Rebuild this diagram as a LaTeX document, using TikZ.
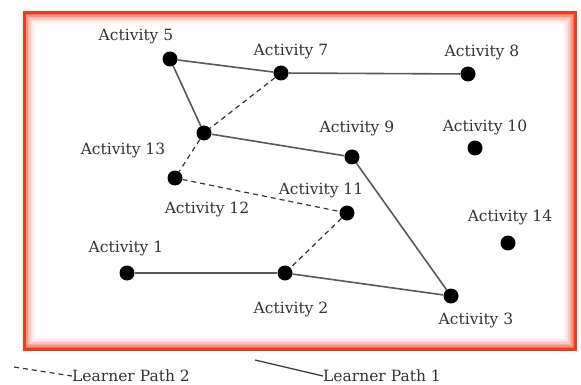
\documentclass[tikz,border=0pt]{standalone}
\usepackage{fontspec}
\setmainfont{DejaVu Serif}
\definecolor{framered}{RGB}{240,60,30}
\begin{document}
\begin{tikzpicture}[x=1pt,y=-1pt,
  dot/.style={circle,fill=black,inner sep=0pt,minimum size=15pt},
  lbl/.style={font=\fontsize{15.5}{18}\selectfont,text=black!80,inner sep=0pt},
  path1/.style={draw=black!65,line width=1.6pt},
  path2/.style={draw=black!80,line width=1.2pt,dash pattern=on 5pt off 4pt}]
\useasboundingbox (0,0) rectangle (581,385);
% glowing red frame
\foreach \i/\op in {0/1,1/0.75,2/0.55,3/0.4,4/0.28,5/0.18,6/0.1,7/0.05}{
  \draw[draw=framered,opacity=\op,line width=1.5pt]
    ({24+1.5*\i},{13+1.5*\i}) rectangle ({575-1.5*\i},{349-1.5*\i});
}
\draw[draw=framered,line width=3pt] (24,13) rectangle (575,349);
% nodes
\node[dot] (a5) at (170,59) {};
\node[dot] (a7) at (281,73) {};
\node[dot] (a8) at (468,74) {};
\node[dot] (a13) at (204,133) {};
\node[dot] (a12) at (175,178) {};
\node[dot] (a9) at (352,157) {};
\node[dot] (a10) at (475,148) {};
\node[dot] (a11) at (347,213) {};
\node[dot] (a14) at (508,243) {};
\node[dot] (a1) at (127,273) {};
\node[dot] (a2) at (285,273) {};
\node[dot] (a3) at (451,296) {};
% labels
\node[lbl] (l5) at (136,37) {Activity 5};
\node[lbl] (l7) at (291,52) {Activity 7};
\node[lbl] (l8) at (482,52) {Activity 8};
\node[lbl] (l13) at (123,150) {Activity 13};
\node[lbl] (l12) at (207,209) {Activity 12};
\node[lbl] (l9) at (357,128) {Activity 9};
\node[lbl] (l10) at (485,127) {Activity 10};
\node[lbl] (l11) at (321,190) {Activity 11};
\node[lbl] (l14) at (510,217) {Activity 14};
\node[lbl] (l1) at (126,248) {Activity 1};
\node[lbl] (l2) at (291,309) {Activity 2};
\node[lbl] (l3) at (476,320) {Activity 3};
% solid path
\draw[path1] (a5) -- (a7);
\draw[path1] (a7) -- (a8);
\draw[path1] (a5) -- (a13);
\draw[path1] (a13) -- (a9);
\draw[path1] (a9) -- (a3);
\draw[path1] (a3) -- (a2);
\draw[path1] (a2) -- (a1);
% dashed path
\draw[path2] (a7) -- (a13);
\draw[path2] (a13) -- (a12);
\draw[path2] (a12) -- (a11);
\draw[path2] (a11) -- (a2);
% legend
\coordinate (d0) at (14,367);
\node[lbl,anchor=west] (lp2) at (72,376) {Learner Path 2};
\draw[path2] (d0) -- (lp2.west);
\coordinate (s0) at (255,360);
\node[lbl,anchor=west] (lp1) at (323,376) {Learner Path 1};
\draw[draw=black!80,line width=1.2pt] (s0) -- (lp1.west);
\end{tikzpicture}
\end{document}
